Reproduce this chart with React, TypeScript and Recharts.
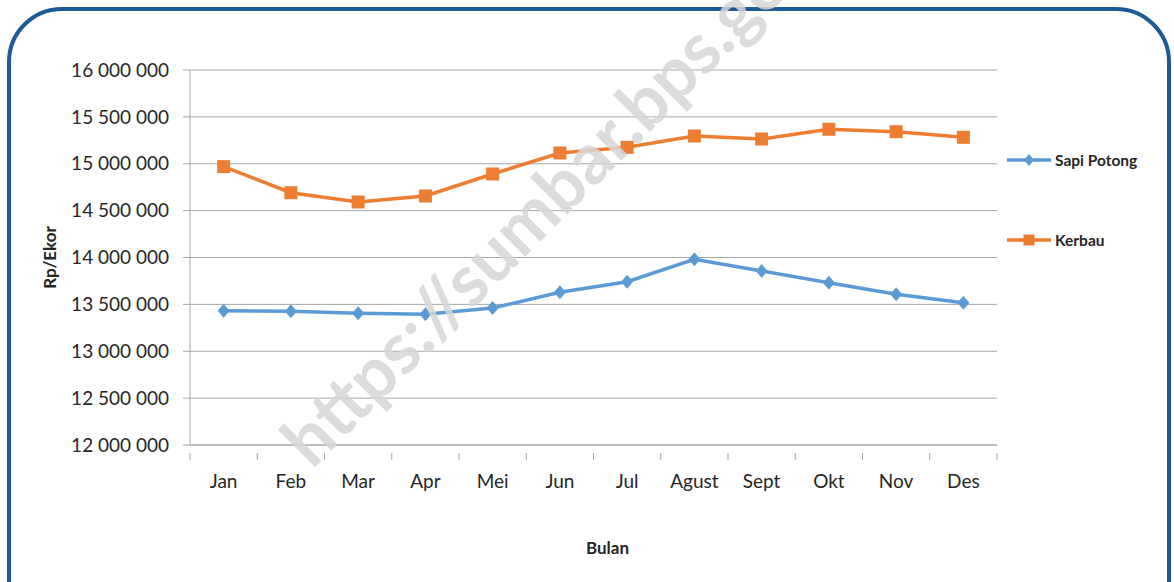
import { LineChart, Line, XAxis, YAxis, CartesianGrid } from 'recharts';

const months = ['Jan', 'Feb', 'Mar', 'Apr', 'Mei', 'Jun', 'Jul', 'Agust', 'Sept', 'Okt', 'Nov', 'Des'];
const sapiPotong = [13433000, 13426000, 13405000, 13394000, 13461000, 13629000, 13742000, 13981000, 13856000, 13731000, 13607000, 13518000];
const kerbau = [14969000, 14691000, 14592000, 14656000, 14891000, 15115000, 15175000, 15296000, 15264000, 15368000, 15342000, 15282000];
const yTicks = [12000000, 12500000, 13000000, 13500000, 14000000, 14500000, 15000000, 15500000, 16000000];

const data = months.map((m, i) => ({ month: m, sapi: sapiPotong[i], kerbau: kerbau[i] }));

const FONT = 'Lato, "Liberation Sans", sans-serif';
const BLUE = '#5b9bd5';
const ORANGE = '#ed7d31';
const W = 1174;
const H = 582;
const MARGIN = { top: 70, right: 177, left: 0, bottom: 0 };
const Y_W = 190;
const halfBand = (W - MARGIN.left - MARGIN.right - Y_W) / months.length / 2;

const fmt = (v: number) => v.toLocaleString('en-US').replace(/,/g, ' ');

const Diamond = ({ cx, cy, fill, size = 7 }: any) => (
  <polygon points={`${cx},${cy - size} ${cx + size - 1},${cy} ${cx},${cy + size} ${cx - size + 1},${cy}`} fill={fill} />
);

const Square = ({ cx, cy, fill, size = 6.5 }: any) => (
  <rect x={cx - size} y={cy - size} width={size * 2} height={size * 2} fill={fill} />
);

const MonthTick = ({ x, y, payload, index }: any) => (
  <g>
    <line x1={x - halfBand} y1={y} x2={x - halfBand} y2={y + 7} stroke="#a6a6a6" />
    {index === months.length - 1 && (
      <line x1={x + halfBand} y1={y} x2={x + halfBand} y2={y + 7} stroke="#a6a6a6" />
    )}
    <text x={x} y={y + 35} textAnchor="middle" fontSize={19} fill="#262626" fontFamily={FONT}>
      {payload.value}
    </text>
  </g>
);

const legendItems = [
  { name: 'Sapi Potong', color: BLUE, shape: 'diamond' },
  { name: 'Kerbau', color: ORANGE, shape: 'square' },
];

const ChartLegend = () => (
  <div style={{ position: 'absolute', left: 1007, top: 150, fontFamily: FONT, fontWeight: 700, fontSize: 15.5, color: '#262626' }}>
    {legendItems.map((it, i) => (
      <div key={it.name} style={{ display: 'flex', alignItems: 'center', height: 20, marginBottom: i === 0 ? 60 : 0 }}>
        <svg width={46} height={20}>
          <line x1={0} y1={10} x2={44} y2={10} stroke={it.color} strokeWidth={3.5} />
          {it.shape === 'diamond' ? <Diamond cx={22} cy={10} fill={it.color} size={6} /> : <Square cx={22} cy={10} fill={it.color} size={5.5} />}
        </svg>
        <span style={{ marginLeft: 2 }}>{it.name}</span>
      </div>
    ))}
  </div>
);

export default function App() {
  return (
    <div style={{ position: 'fixed', left: 0, top: 0, width: W, height: H, overflow: 'hidden', background: '#fff' }}>
      <div
        style={{
          position: 'absolute',
          left: 7,
          top: 7,
          width: 1164,
          height: 660,
          border: '4px solid #1d5a96',
          borderRadius: 55,
          boxSizing: 'border-box',
        }}
      />
      <ChartLegend />
      <div style={{ position: 'absolute', left: 0, top: 0 }}>
        <LineChart width={W} height={H} data={data} margin={MARGIN}>
          <CartesianGrid vertical={false} stroke="#a6a6a6" strokeWidth={1} />
          <XAxis
            dataKey="month"
            height={H - 445}
            padding={{ left: halfBand, right: halfBand }}
            axisLine={{ stroke: '#a6a6a6' }}
            tickLine={false}
            tick={<MonthTick />}
            interval={0}
            label={({ viewBox }: any) => (
              <text
                x={viewBox.x + viewBox.width / 2 + 14}
                y={554}
                textAnchor="middle"
                fontSize={17}
                fontWeight={700}
                fill="#262626"
                fontFamily={FONT}
              >
                Bulan
              </text>
            )}
          />
          <YAxis
            width={Y_W}
            domain={[12000000, 16000000]}
            ticks={yTicks}
            interval={0}
            tickFormatter={fmt}
            axisLine={{ stroke: '#a6a6a6' }}
            tickLine={{ stroke: '#a6a6a6' }}
            tickSize={7}
            tickMargin={14}
            tick={{ fontSize: 19, fill: '#262626', fontFamily: FONT }}
            label={({ viewBox }: any) => (
              <text
                x={56}
                y={viewBox.y + viewBox.height / 2}
                transform={`rotate(-90, 56, ${viewBox.y + viewBox.height / 2})`}
                textAnchor="middle"
                fontSize={17}
                fontWeight={700}
                fill="#262626"
                fontFamily={FONT}
              >
                Rp/Ekor
              </text>
            )}
          />
          <Line
            type="linear"
            dataKey="sapi"
            name="Sapi Potong"
            stroke={BLUE}
            strokeWidth={3.5}
            dot={(p: any) => <Diamond key={p.index} cx={p.cx} cy={p.cy} fill={BLUE} />}
            activeDot={false}
            isAnimationActive={false}
          />
          <Line
            type="linear"
            dataKey="kerbau"
            name="Kerbau"
            stroke={ORANGE}
            strokeWidth={3.5}
            dot={(p: any) => <Square key={p.index} cx={p.cx} cy={p.cy} fill={ORANGE} />}
            activeDot={false}
            isAnimationActive={false}
          />
        </LineChart>
      </div>
      <svg width={W} height={H} style={{ position: 'absolute', left: 0, top: 0, pointerEvents: 'none' }}>
        <text
          x={312}
          y={470}
          transform="rotate(-45 312 470)"
          fontFamily={FONT}
          fontWeight={700}
          fontSize={71}
          fill="#d6d6d6"
          fillOpacity={0.85}
        >
          https://sumbar.bps.go.id
        </text>
      </svg>
    </div>
  );
}
